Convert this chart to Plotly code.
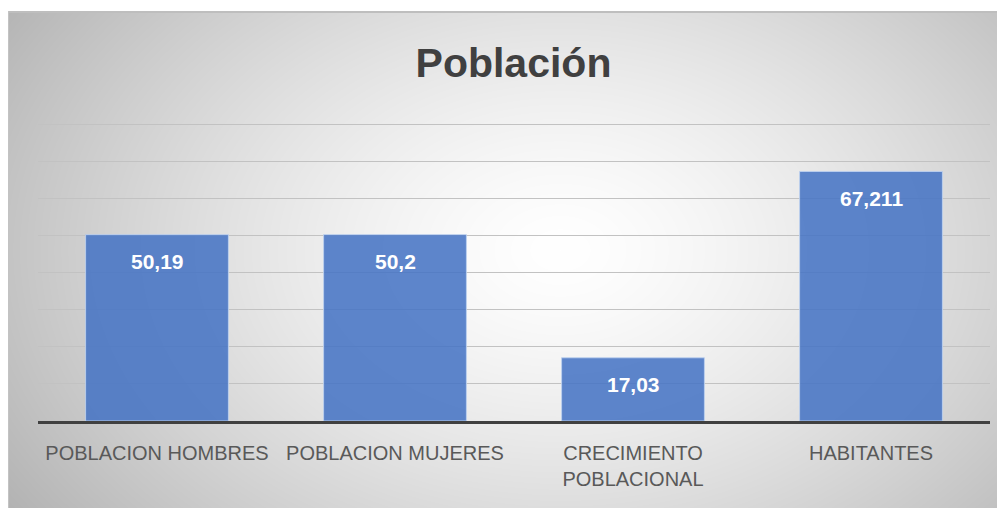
import base64, struct, zlib
import numpy as np
import plotly.graph_objects as go

categories = ["POBLACION HOMBRES", "POBLACION MUJERES", "CRECIMIENTO<br>POBLACIONAL", "HABITANTES"]
values = [50.19, 50.2, 17.03, 67.211]
value_labels = ["50,19", "50,2", "17,03", "67,211"]
title_text = "Población"

# page body has an 8px margin, so the figure is drawn at (8, 8)
OFF = 8
EXTRA = 5
W, H = 1005 - OFF, 508 - OFF
L, R, T, B = 38 - OFF, 15, 124 - OFF - EXTRA, 87
PW, PH = W - L - R, H - T - B
YMAX = 80 * PH / (PH - EXTRA)

# radial gradient background (PNG built in-memory)
bx0, by0 = 8 - OFF, 11 - OFF
bw, bh = W - bx0, H - by0
yy, xx = np.mgrid[0:bh, 0:bw]
cx, cy, rx, ry = 560 - 8, 250 - 11, 600.0, 420.0
d = np.sqrt(((xx - cx) / rx) ** 2 + ((yy - cy) / ry) ** 2)
g = 255 - 66 * np.clip(d, 0, 1.1) ** 1.4
g = np.clip(g, 0, 255).astype(np.uint8)
g[0:2, :] = 190
g[:, 0:1] = 195

def png_gray(arr):
    h, w = arr.shape
    raw = b"".join(b"\x00" + arr[i].tobytes() for i in range(h))
    def chunk(t, data):
        c = struct.pack(">I", len(data)) + t + data
        return c + struct.pack(">I", zlib.crc32(t + data) & 0xffffffff)
    return (b"\x89PNG\r\n\x1a\n" + chunk(b"IHDR", struct.pack(">IIBBBBB", w, h, 8, 0, 0, 0, 0))
            + chunk(b"IDAT", zlib.compress(raw, 9)) + chunk(b"IEND", b""))

img_uri = "data:image/png;base64," + base64.b64encode(png_gray(g)).decode()

fig = go.Figure()
fig.add_trace(go.Bar(
    x=categories, y=values, width=0.6,
    marker=dict(color="rgba(68,114,196,0.86)", line=dict(color="rgba(190,208,238,0.9)", width=1)),
    hoverinfo="skip",
))
for c, v, t in zip(categories, values, value_labels):
    fig.add_annotation(x=c, y=v, text=t, showarrow=False, yshift=-27,
                       font=dict(family="Liberation Sans, Arial", size=21, color="white", weight="bold"))

fig.update_layout(
    width=W, height=H,
    margin=dict(l=L, r=R, t=T, b=B),
    paper_bgcolor="white", plot_bgcolor="rgba(0,0,0,0)",
    showlegend=False,
    title=dict(text="<b>" + title_text + "</b>", x=(513.5 - OFF) / W, xanchor="center",
               y=1 - (63 - OFF) / H, yanchor="middle",
               font=dict(family="Liberation Sans, Arial", size=41, color="#404040")),
    images=[dict(source=img_uri, xref="paper", yref="paper",
                 x=(bx0 - L) / PW, y=(H - B - by0) / PH, sizex=bw / PW, sizey=bh / PH,
                 xanchor="left", yanchor="top", sizing="stretch", layer="below")],
    xaxis=dict(showgrid=False, showline=True, linewidth=3, linecolor="#404040", ticks="",
               tickfont=dict(family="Liberation Sans, Arial", size=20, color="#595959"),
               ticklabelstandoff=12, fixedrange=True),
    yaxis=dict(range=[0, YMAX], tick0=0, dtick=10, showgrid=True, gridcolor="#c2c2c2", gridwidth=1,
               showticklabels=False, zeroline=False, fixedrange=True),
)
fig.write_html("out.html")
